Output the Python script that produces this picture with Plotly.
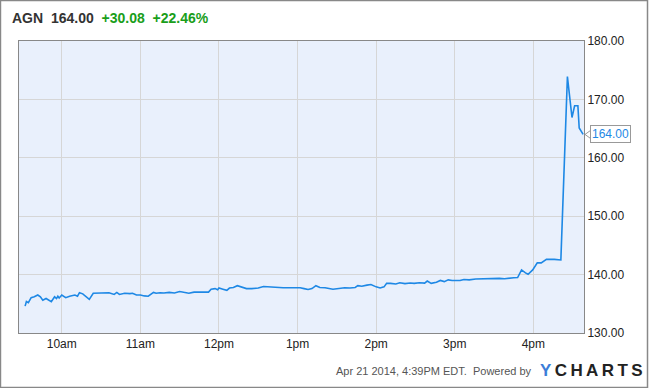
import plotly.graph_objects as go

# ---- data ----
times = ["09:32","09:33","09:34:30","09:36:36","09:39","09:41:40","09:43:40","09:45:30","09:48","09:50",
         "09:52","09:54:30","09:56","09:57","09:58","10:00","10:01","10:03","10:06","10:10",
         "10:12","10:13:30","10:16","10:17","10:21","10:24","10:29","10:36","10:40","10:42",
         "10:44","10:48","10:52","10:54","10:57","11:00","11:03","11:06","11:10","11:12",
         "11:15","11:18","11:22","11:26","11:30","11:34","11:37","11:41","11:45","11:50",
         "11:52","11:54","11:57","11:59","12:00","12:03","12:06","12:08","12:11","12:14",
         "12:17","12:21","12:25","12:30","12:34","12:39","12:43","12:49","12:54","12:59",
         "13:02","13:05","13:08","13:11","13:14","13:17","13:21","13:27","13:32","13:36",
         "13:40","13:44","13:46","13:49","13:53","13:56","14:00","14:03","14:06","14:08",
         "14:11","14:15","14:18","14:22","14:26","14:29","14:33","14:37","14:39","14:42",
         "14:46","14:49","14:52","14:55","14:58","15:00","15:04","15:07","15:11","15:16",
         "15:20","15:25","15:30","15:34","15:38","15:42","15:45","15:48","15:51","15:54",
         "15:56","15:59:30","16:03","16:06","16:10","16:16","16:21","16:26","16:28","16:29:30",
         "16:31:30","16:34","16:35","16:38"]
prices = [134.6,135.4,135.2,136.05,136.2,136.5,136.2,135.6,135.9,135.7,
          135.36,136.2,135.9,136.3,136.0,136.5,136.3,136.05,136.3,136.5,
          136.3,136.9,136.7,136.5,135.76,136.8,136.85,136.9,136.6,136.95,
          136.6,136.8,136.75,136.8,136.5,136.5,136.35,136.3,136.95,136.8,
          136.9,136.85,136.95,136.85,137.1,136.95,136.8,137.0,137.0,137.1,
          137.0,137.5,137.6,137.4,137.7,137.5,137.3,137.7,137.8,138.1,
          137.9,137.6,137.6,137.7,137.95,137.85,137.8,137.76,137.75,137.7,
          137.76,137.6,137.45,137.6,138.1,137.8,137.75,137.5,137.7,137.75,
          137.7,137.8,138.1,138.0,138.2,138.3,137.9,137.7,137.9,138.5,
          138.5,138.4,138.6,138.45,138.55,138.5,138.6,138.55,138.9,138.5,
          138.7,139.0,138.8,139.1,139.0,138.96,139.0,139.15,139.1,139.25,
          139.3,139.3,139.35,139.35,139.3,139.45,139.45,139.5,140.8,140.3,
          140.05,140.8,142.0,142.0,142.6,142.6,142.5,173.9,170.0,166.9,
          168.9,168.9,165.1,164.0]
day = "2014-04-21"
x_tick_vals = ["10:00","11:00","12:00","13:00","14:00","15:00","16:00"]
x_tick_text = ["10am","11am","12pm","1pm","2pm","3pm","4pm"]
y_ticks = [130,140,150,160,170,180]
last_price = 164.00
change = "+30.08"
change_pct = "+22.46%"
ticker = "AGN"

LINE = "#1e88e5"
FONT = "Liberation Sans, Arial, sans-serif"
PX = 1 / 565.0          # one pixel in paper-x units
PY = 50 / 292.0         # one pixel in y-data units

fig = go.Figure()
fig.add_trace(go.Scatter(
    x=[f"{day} {t}" for t in times], y=prices, mode="lines",
    line=dict(color=LINE, width=1.6), hoverinfo="skip"))

fig.update_layout(
    width=650, height=388,
    margin=dict(l=19, r=66, t=41, b=55),
    paper_bgcolor="white", plot_bgcolor="#e9f0fc",
    showlegend=False,
    font=dict(family=FONT, size=12, color="#333333"),
    xaxis=dict(
        range=[f"{day} 09:27:20", f"{day} 16:38:40"],
        tickvals=[f"{day} {t}" for t in x_tick_vals], ticktext=x_tick_text,
        showgrid=True, gridcolor="#d6d6d6", gridwidth=1,
        showline=True, linecolor="#888888", linewidth=1, mirror=True,
        ticks="", tickfont=dict(size=12, color="#222222"), zeroline=False,
    ),
    yaxis=dict(
        side="right", range=[130, 180], tickvals=y_ticks,
        ticktext=[f"{v:.2f}" for v in y_ticks],
        showgrid=True, gridcolor="#d6d6d6", gridwidth=1,
        showline=True, linecolor="#888888", linewidth=1, mirror=True,
        ticks="", tickfont=dict(size=12, color="#222222"), zeroline=False,
    ),
)

# title
fig.add_annotation(
    xref="paper", yref="paper", x=-0.016, y=1.079, xanchor="left", yanchor="middle",
    showarrow=False,
    text=(f"<b><span style='color:#333333'>{ticker}&nbsp;&nbsp;{last_price:.2f}</span>"
          f"&nbsp;&nbsp;<span style='color:#1a9e1a'>{change}&nbsp;&nbsp;{change_pct}</span></b>"),
    font=dict(family=FONT, size=14))

# last price label with pointer
fig.add_annotation(
    xref="paper", yref="y", x=1.0, y=last_price, xanchor="left", yanchor="middle",
    xshift=6, showarrow=False, text=f"{last_price:.2f}",
    font=dict(family=FONT, size=12, color=LINE),
    bgcolor="white", bordercolor="#999999", borderwidth=1, borderpad=1)
fig.add_shape(type="path", xref="paper", yref="y",
              path=(f"M {1.0 + 6.5*PX} {last_price + 4*PY} L {1.0 + 1*PX} {last_price} "
                    f"L {1.0 + 6.5*PX} {last_price - 4*PY}"),
              line=dict(color="#999999", width=1), fillcolor="white", layer="above")

# footer
fig.add_annotation(
    xref="paper", yref="paper", x=(534 - 19) / 565, y=-0.1285, xanchor="right", yanchor="middle",
    showarrow=False, text="Apr 21 2014, 4:39PM EDT.&nbsp; Powered by",
    font=dict(family=FONT, size=11, color="#555555"))
fig.add_annotation(
    xref="paper", yref="paper", x=(538 - 19) / 565, y=-0.1285, xanchor="left", yanchor="middle",
    showarrow=False,
    text="<b><span style='color:#3b7dd8'>Y</span>&#8201;C&#8201;H&#8201;A&#8201;R&#8201;T&#8201;S</b>",
    font=dict(family=FONT, size=17, color="#222222"))

# outer frame
fig.add_shape(type="rect", xref="paper", yref="paper", x0=-0.0328, x1=1.1124, y0=-0.1867, y1=1.1387,
              line=dict(color="#888888", width=1.5), layer="above")

fig.write_html("out.html")
